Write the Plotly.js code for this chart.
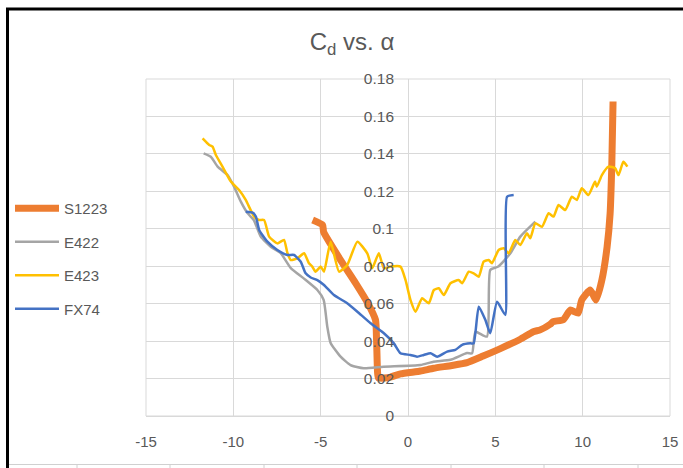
<!DOCTYPE html>
<html>
<head>
<meta charset="utf-8">
<script src="https://cdn.plot.ly/plotly-3.0.1.min.js"></script>
<style>
  html, body { margin: 0; padding: 0; background: #ffffff; }
  #chart { width: 683px; height: 468px; }
</style>
</head>
<body>
<div id="chart"></div>
<script>
// Drag coefficient vs. angle of attack for four airfoils
const s1223Alpha = [-5.46, -4.89, -4.83, -3.86, -3.0, -2.31, -1.86, -1.8, -1.74, -1.69, -1.0, -0.43, 0.71, 1.46, 2.5, 3.38, 4.3, 5.29, 6.43, 7.17, 7.57, 8.14, 8.31, 8.9, 9.29, 9.74, 9.95, 10.43, 10.77, 11.1, 11.4, 11.57, 11.67, 11.74];
const s1223Cd    = [0.1047, 0.102, 0.0983, 0.0833, 0.071, 0.0604, 0.0513, 0.0406, 0.023, 0.0203, 0.0208, 0.0225, 0.024, 0.0255, 0.027, 0.0285, 0.032, 0.036, 0.041, 0.045, 0.046, 0.049, 0.0504, 0.0515, 0.0566, 0.055, 0.062, 0.0673, 0.062, 0.0726, 0.0904, 0.108, 0.135, 0.168];

const e422Alpha = [-11.7, -11.29, -10.9, -10.33, -9.96, -9.57, -9.19, -8.83, -8.43, -7.86, -7.29, -6.71, -5.97, -5.19, -4.83, -4.62, -4.43, -3.86, -3.29, -2.54, -1.4, 0.71, 1.46, 2.43, 3.38, 3.67, 3.86, 4.52, 4.71, 5.17, 5.86, 6.43, 7.29];
const e422Cd    = [0.1403, 0.1385, 0.1332, 0.1287, 0.1225, 0.1145, 0.1084, 0.1047, 0.0958, 0.0904, 0.087, 0.079, 0.0735, 0.0673, 0.062, 0.0477, 0.039, 0.0317, 0.0272, 0.0255, 0.0263, 0.0272, 0.029, 0.030, 0.0336, 0.0335, 0.045, 0.0424, 0.078, 0.0798, 0.0869, 0.0958, 0.1038];

const e423Alpha = [-11.76, -11.38, -11.19, -11.0, -10.62, -10.14, -9.67, -9.29, -8.81, -8.53, -8.24, -7.95, -7.48, -7.1, -6.9, -6.71, -6.33, -5.95, -5.67, -5.48, -5.29, -5.0, -4.81, -4.43, -3.95, -3.48, -2.9, -2.33, -2.05, -1.67, -1.38, -1.0, -0.43, -0.14, 0.14, 0.43, 0.81, 1.19, 1.48, 1.76, 2.05, 2.43, 2.9, 3.1, 3.48, 3.76, 4.05, 4.33, 4.62, 4.81, 5.19, 5.48, 5.76, 6.14, 6.43, 6.81, 7.0, 7.29, 7.67, 8.05, 8.33, 8.62, 9.0, 9.38, 9.67, 9.95, 10.33, 10.71, 10.81, 11.1, 11.48, 11.86, 12.05, 12.33, 12.56];
const e423Cd    = [0.1483, 0.1448, 0.1439, 0.1394, 0.1332, 0.1252, 0.1207, 0.1154, 0.1065, 0.1047, 0.1047, 0.0958, 0.0922, 0.094, 0.0869, 0.0833, 0.0842, 0.0869, 0.0816, 0.0798, 0.0771, 0.0798, 0.0771, 0.0931, 0.0771, 0.0807, 0.0931, 0.0869, 0.0789, 0.0869, 0.0789, 0.0798, 0.0798, 0.0726, 0.062, 0.0557, 0.0629, 0.0602, 0.0673, 0.0682, 0.0646, 0.0709, 0.0726, 0.0709, 0.0771, 0.0762, 0.0744, 0.0824, 0.0833, 0.0816, 0.0887, 0.0896, 0.0869, 0.094, 0.0913, 0.0976, 0.0949, 0.1029, 0.1011, 0.1083, 0.1065, 0.1127, 0.11, 0.1171, 0.1154, 0.1216, 0.118, 0.1252, 0.1225, 0.1287, 0.1332, 0.1323, 0.1287, 0.1358, 0.1332];

const fx74Alpha = [-9.29, -8.9, -8.71, -8.52, -8.05, -7.48, -6.9, -6.52, -6.14, -5.86, -5.57, -5.19, -4.81, -4.24, -3.48, -2.9, -2.14, -1.38, -0.81, -0.43, 0.14, 0.52, 0.9, 1.29, 1.67, 2.24, 2.71, 3.1, 3.57, 3.76, 4.05, 4.43, 4.71, 5.1, 5.57, 5.67, 6.05];
const fx74Cd    = [0.1091, 0.1086, 0.1065, 0.0994, 0.0931, 0.0887, 0.086, 0.086, 0.0824, 0.0762, 0.074, 0.0726, 0.07, 0.0646, 0.0602, 0.0557, 0.0495, 0.0442, 0.0388, 0.0335, 0.0326, 0.0317, 0.0326, 0.0335, 0.0317, 0.0344, 0.0353, 0.038, 0.0388, 0.0388, 0.0584, 0.0513, 0.0442, 0.061, 0.054, 0.1171, 0.118];

const seriesNames = ['S1223', 'E422', 'E423', 'FX74'];
const xTickValues = [-15, -10, -5, 0, 5, 10, 15];
const yTickValues = [0, 0.02, 0.04, 0.06, 0.08, 0.1, 0.12, 0.14, 0.16, 0.18];

const textGray = '#595959';
const gridGray = '#d9d9d9';
const FONT = 'Liberation Sans, Arial, sans-serif';

function series(name, x, y, color, width) {
  return {
    type: 'scatter', mode: 'lines', name: name, legendgroup: name,
    x: x, y: y,
    line: { color: color, width: width, shape: 'spline', smoothing: 0.5 },
    hoverinfo: 'x+y+name'
  };
}

const traces = [
  series(seriesNames[0], s1223Alpha, s1223Cd, '#ED7D31', 7),
  series(seriesNames[1], e422Alpha, e422Cd, '#A5A5A5', 2.5),
  series(seriesNames[2], e423Alpha, e423Cd, '#FFC000', 2.5),
  series(seriesNames[3], fx74Alpha, fx74Cd, '#4472C4', 2.5)
];

// Outer frame and worksheet cell lines, in paper units of the plot area
const L = 146, T = 79, W = 524, H = 337;
const px = v => (v - L) / W;
const py = v => (T + H - v) / H;

const frame = [
  { type: 'line', xref: 'paper', yref: 'paper', x0: px(7.5), x1: px(7.5), y0: py(9), y1: py(475), line: { color: '#000', width: 3 } },
  { type: 'line', xref: 'paper', yref: 'paper', x0: px(6), x1: px(700), y0: py(9), y1: py(9), line: { color: '#000', width: 3 } },
  { type: 'line', xref: 'paper', yref: 'paper', x0: px(9), x1: px(700), y0: py(464.5), y1: py(464.5), line: { color: '#d0d0d0', width: 1 } },
  { type: 'rect', xref: 'paper', yref: 'paper', x0: 0, x1: 1, y0: 0, y1: 1, line: { color: gridGray, width: 1 }, layer: 'below' }
];
[77, 170, 264, 357, 451, 544, 638].forEach(c => {
  frame.push({ type: 'line', xref: 'paper', yref: 'paper', x0: px(c), x1: px(c), y0: py(464.5), y1: py(470), line: { color: '#d0d0d0', width: 1 } });
});

const layout = {
  width: 683, height: 468,
  margin: { l: L, r: 683 - L - W, t: T, b: 468 - T - H, pad: 0 },
  paper_bgcolor: '#ffffff', plot_bgcolor: '#ffffff',
  font: { family: FONT, size: 15, color: textGray },
  title: {
    text: 'C<sub>d</sub> vs. α',
    font: { family: FONT, size: 24, color: textGray },
    x: 352 / 683, xanchor: 'center', xref: 'container',
    y: 1 - 42 / 468, yanchor: 'middle', yref: 'container'
  },
  xaxis: {
    range: [-15, 15], tickvals: xTickValues, ticktext: xTickValues.map(String),
    showgrid: true, gridcolor: gridGray, gridwidth: 1,
    zeroline: true, zerolinecolor: gridGray, zerolinewidth: 1,
    showline: false, ticks: '', ticklabelstandoff: 15,
    tickfont: { family: FONT, size: 15, color: textGray }, fixedrange: true
  },
  yaxis: {
    range: [0, 0.18], tickvals: yTickValues, ticktext: yTickValues.map(String),
    anchor: 'free', position: 0.5,
    showgrid: true, gridcolor: gridGray, gridwidth: 1,
    zeroline: true, zerolinecolor: gridGray, zerolinewidth: 1,
    showline: false, ticks: '', ticklabelstandoff: 14,
    tickfont: { family: FONT, size: 15.5, color: textGray }, fixedrange: true
  },
  showlegend: true,
  legend: {
    xref: 'container', yref: 'container',
    x: 10 / 683, xanchor: 'left', y: 1 - 192 / 468, yanchor: 'top',
    bgcolor: 'rgba(0,0,0,0)', borderwidth: 0, itemwidth: 44,
    tracegroupgap: 11, itemclick: false, itemdoubleclick: false,
    font: { family: FONT, size: 15, color: textGray }
  },
  shapes: frame
};

Plotly.newPlot('chart', traces, layout, { displayModeBar: false, staticPlot: true });
</script>
</body>
</html>
